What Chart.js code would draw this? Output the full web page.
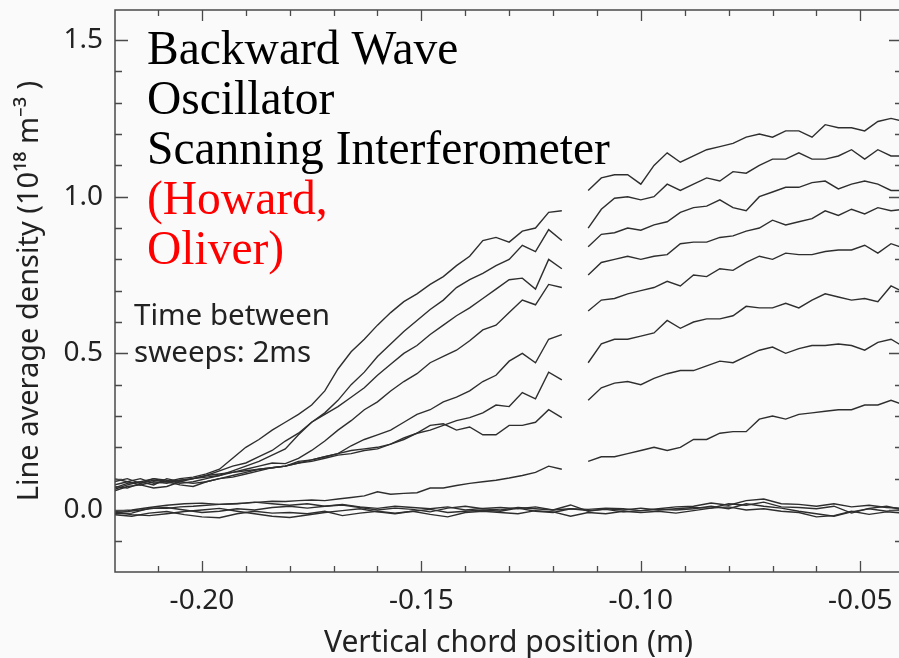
<!DOCTYPE html>
<html lang="en">
<head>
    <meta charset="UTF-8">
    <title>BWO Scanning Interferometer</title>
    <style>
        * { box-sizing: border-box; margin: 0; }
        html, body { width: 899px; height: 658px; overflow: hidden; background: #fafafa; }
        #plot { display: block; }
    </style>
</head>
<body>
    <canvas id="plot" width="903" height="658"></canvas>

    <script src="https://cdn.jsdelivr.net/npm/chart.js@4.4.1/dist/chart.umd.min.js"></script>
    <script>
        "use strict";

        // chord positions (m) for the two halves of each sweep and for the flat sweeps
        const xLeft  = [-0.220, -0.217, -0.214, -0.211, -0.208, -0.205, -0.202, -0.199, -0.196, -0.193,
                        -0.190, -0.187, -0.184, -0.181, -0.178, -0.175, -0.172, -0.169, -0.166, -0.163,
                        -0.160, -0.157, -0.154, -0.151, -0.148, -0.145, -0.142, -0.139, -0.136, -0.133,
                        -0.130, -0.127, -0.124, -0.121, -0.118]
        const xRight = [-0.112, -0.109, -0.106, -0.103, -0.100, -0.097, -0.094, -0.091, -0.088, -0.085,
                        -0.082, -0.079, -0.076, -0.073, -0.070, -0.067, -0.064, -0.061, -0.058, -0.055,
                        -0.052, -0.049, -0.046, -0.043, -0.040]
        const xFlat  = [-0.220, -0.216, -0.212, -0.208, -0.204, -0.200, -0.196, -0.192, -0.188, -0.184,
                        -0.180, -0.176, -0.172, -0.168, -0.164, -0.160, -0.156, -0.152, -0.148, -0.144,
                        -0.140, -0.136, -0.132, -0.128, -0.124, -0.120, -0.116, -0.112, -0.108, -0.104,
                        -0.100, -0.096, -0.092, -0.088, -0.084, -0.080, -0.076, -0.072, -0.068, -0.064,
                        -0.060, -0.056, -0.052, -0.048, -0.044, -0.040]

        // axis label positions
        const xLabelTicks = [-0.20, -0.15, -0.10, -0.05]
        const yLabelTicks = [0.0, 0.5, 1.0, 1.5]

        // line average density (1e18 m^-3), one pair of arrays per sweep, densest first
        const rise1L = [0.09, 0.10, 0.085, 0.095, 0.09, 0.10, 0.105, 0.115, 0.13, 0.165, 0.20, 0.225, 0.255, 0.28, 0.305,
                        0.335, 0.38, 0.45, 0.505, 0.545, 0.59, 0.63, 0.665, 0.69, 0.72, 0.745, 0.78, 0.81, 0.86, 0.87,
                        0.855, 0.89, 0.90, 0.95, 0.955]
        const rise1R = [1.02, 1.06, 1.07, 1.07, 1.04, 1.10, 1.14, 1.11, 1.13, 1.15, 1.16, 1.17, 1.19, 1.20, 1.19,
                        1.21, 1.21, 1.19, 1.23, 1.22, 1.22, 1.21, 1.24, 1.25, 1.24]
        const rise2L = [0.08, 0.09, 0.10, 0.085, 0.09, 0.095, 0.10, 0.11, 0.125, 0.14, 0.15, 0.17, 0.19, 0.22, 0.245,
                        0.28, 0.31, 0.35, 0.40, 0.44, 0.49, 0.53, 0.57, 0.605, 0.64, 0.67, 0.71, 0.735, 0.755, 0.78,
                        0.80, 0.845, 0.825, 0.895, 0.86]
        const rise2R = [0.90, 0.96, 0.995, 1.00, 0.99, 1.00, 1.04, 1.02, 1.04, 1.06, 1.05, 1.08, 1.075, 1.10, 1.12,
                        1.12, 1.14, 1.12, 1.12, 1.13, 1.15, 1.12, 1.15, 1.13, 1.13]
        const rise3L = [0.07, 0.085, 0.09, 0.10, 0.095, 0.085, 0.09, 0.10, 0.11, 0.125, 0.14, 0.155, 0.175, 0.195, 0.24,
                        0.28, 0.305, 0.33, 0.36, 0.39, 0.43, 0.465, 0.50, 0.525, 0.56, 0.59, 0.62, 0.645, 0.675, 0.705,
                        0.735, 0.74, 0.705, 0.80, 0.77]
        const rise3R = [0.84, 0.88, 0.885, 0.90, 0.893, 0.91, 0.92, 0.95, 0.965, 0.97, 0.99, 0.965, 0.955, 1.00, 1.015,
                        1.03, 1.03, 1.045, 1.05, 1.025, 1.04, 1.05, 1.04, 1.02, 1.02]
        const rise4L = [0.10, 0.09, 0.08, 0.09, 0.085, 0.095, 0.10, 0.105, 0.11, 0.12, 0.13, 0.14, 0.15, 0.148, 0.165,
                        0.19, 0.22, 0.255, 0.285, 0.32, 0.345, 0.38, 0.41, 0.435, 0.47, 0.49, 0.51, 0.54, 0.575, 0.59,
                        0.63, 0.67, 0.655, 0.72, 0.71]
        const rise4R = [0.75, 0.79, 0.80, 0.81, 0.80, 0.81, 0.815, 0.85, 0.855, 0.855, 0.87, 0.875, 0.89, 0.90, 0.925,
                        0.91, 0.92, 0.93, 0.955, 0.94, 0.96, 0.945, 0.965, 0.955, 0.96]
        const rise5L = [0.065, 0.08, 0.09, 0.08, 0.10, 0.09, 0.085, 0.09, 0.10, 0.105, 0.115, 0.125, 0.135, 0.14, 0.15,
                        0.16, 0.17, 0.18, 0.205, 0.225, 0.24, 0.255, 0.28, 0.305, 0.32, 0.345, 0.36, 0.38, 0.41, 0.43,
                        0.475, 0.50, 0.47, 0.545, 0.56]
        const rise5R = [0.635, 0.67, 0.675, 0.69, 0.70, 0.71, 0.73, 0.715, 0.75, 0.745, 0.77, 0.765, 0.79, 0.81, 0.80,
                        0.82, 0.815, 0.815, 0.825, 0.83, 0.83, 0.845, 0.82, 0.85, 0.835]
        const rise6L = [0.075, 0.07, 0.085, 0.10, 0.09, 0.08, 0.075, 0.09, 0.10, 0.11, 0.12, 0.13, 0.135, 0.14, 0.155,
                        0.16, 0.17, 0.18, 0.19, 0.195, 0.20, 0.21, 0.23, 0.245, 0.255, 0.27, 0.285, 0.295, 0.31, 0.335,
                        0.33, 0.375, 0.355, 0.44, 0.415]
        const rise6R = [0.47, 0.53, 0.545, 0.545, 0.555, 0.565, 0.605, 0.58, 0.60, 0.61, 0.61, 0.62, 0.65, 0.645, 0.645,
                        0.66, 0.645, 0.67, 0.69, 0.68, 0.67, 0.675, 0.665, 0.715, 0.695]
        const rise7L = [0.06, 0.075, 0.08, 0.07, 0.075, 0.09, 0.10, 0.11, 0.115, 0.12, 0.125, 0.13, 0.135, 0.14, 0.15,
                        0.155, 0.165, 0.175, 0.18, 0.19, 0.195, 0.21, 0.225, 0.245, 0.27, 0.275, 0.255, 0.265, 0.24, 0.24,
                        0.27, 0.27, 0.28, 0.32, 0.295]
        const rise7R = [0.35, 0.39, 0.405, 0.41, 0.40, 0.42, 0.435, 0.445, 0.445, 0.46, 0.475, 0.47, 0.49, 0.51, 0.52,
                        0.50, 0.515, 0.525, 0.525, 0.53, 0.525, 0.51, 0.535, 0.545, 0.52]
        const rise8L = [-0.01, -0.005, 0.0, 0.005, 0.005, 0.01, 0.012, 0.015, 0.018, 0.02, 0.022, 0.025, 0.028, 0.027, 0.03,
                        0.032, 0.03, 0.035, 0.04, 0.045, 0.058, 0.05, 0.053, 0.055, 0.07, 0.07, 0.078, 0.085, 0.09, 0.095,
                        0.102, 0.11, 0.12, 0.14, 0.13]
        const rise8R = [0.155, 0.17, 0.17, 0.18, 0.19, 0.20, 0.19, 0.20, 0.225, 0.225, 0.245, 0.25, 0.25, 0.29, 0.30,
                        0.29, 0.305, 0.31, 0.315, 0.32, 0.32, 0.335, 0.335, 0.35, 0.335]

        // sweeps taken before the plasma density builds up
        const flat1 = [-0.005, 0.0, 0.008, 0.015, 0.02, 0.022, 0.018, 0.02, 0.025, 0.02, 0.015, 0.02, 0.012, 0.018, 0.01,
                       0.005, 0.012, 0.008, 0.004, 0.01, 0.0, 0.005, 0.008, 0.004, 0.01, 0.0, 0.004, 0.002, 0.006, 0.004,
                       -0.002, 0.004, 0.01, 0.012, 0.022, 0.015, 0.03, 0.035, 0.02, 0.018, 0.012, 0.02, 0.01, 0.015, 0.008, 0.005]
        const flat2 = [-0.012, -0.01, 0.005, 0.008, 0.0, -0.008, -0.004, 0.004, 0.0, 0.008, 0.012, 0.006, 0.012, 0.016, 0.008,
                       0.0, 0.006, 0.002, -0.006, 0.006, 0.012, 0.004, 0.0, 0.008, 0.004, 0.0, 0.016, -0.004, 0.004, 0.0,
                       0.006, 0.0, 0.004, 0.008, 0.006, 0.02, 0.015, 0.025, 0.01, 0.008, 0.004, 0.012, -0.01, 0.005, 0.012, 0.0]
        const flat3 = [-0.015, -0.02, -0.01, -0.005, -0.015, -0.022, -0.025, -0.012, -0.004, -0.01, -0.008, -0.012, -0.004, -0.018, -0.01,
                       -0.004, -0.01, -0.004, -0.014, -0.022, -0.008, -0.004, -0.008, -0.012, -0.002, -0.006, -0.02, -0.008, -0.012, -0.004,
                       -0.008, -0.004, -0.01, -0.002, 0.006, 0.01, 0.0, 0.004, -0.004, -0.008, -0.022, -0.018, -0.004, -0.014, -0.006, -0.01]
        const flat4 = [-0.008, -0.015, -0.018, -0.012, -0.005, 0.0, 0.005, -0.004, -0.012, -0.02, -0.024, -0.016, -0.008, -0.002, 0.004,
                       -0.006, -0.012, -0.004, 0.002, -0.008, -0.004, 0.0, -0.004, 0.006, -0.004, -0.008, 0.004, -0.002, 0.002, -0.006,
                       -0.002, 0.002, 0.0, 0.004, 0.012, 0.004, 0.02, 0.012, 0.006, -0.004, -0.012, -0.02, -0.006, 0.004, -0.004, 0.002]

        const risePairs = [
            [rise1L, rise1R], [rise2L, rise2R], [rise3L, rise3R], [rise4L, rise4R],
            [rise5L, rise5R], [rise6L, rise6R], [rise7L, rise7R], [rise8L, rise8R]
        ]
        const flats = [flat1, flat2, flat3, flat4]

        const titleLines = [
            { text: "Backward Wave", color: "#000000" },
            { text: "Oscillator", color: "#000000" },
            { text: "Scanning Interferometer", color: "#000000" },
            { text: "(Howard,", color: "#ff0000" },
            { text: "Oliver)", color: "#ff0000" }
        ]
        const noteLines = ["Time between", "sweeps: 2ms"]

        const sans     = "'Noto Sans', 'Open Sans', sans-serif"
        const lineGrey = "#2e2e2e"
        const axisGrey = "#4a4a4a"

        function toPoints(xs, ys) {
            return xs.map((x, i) => ({ x: x, y: ys[i] }))
        }

        // left half, a break where the sweep skips the port, then the right half
        const datasets = []
        risePairs.forEach(([l, r]) => {
            datasets.push({
                data: toPoints(xLeft, l).concat([{ x: -0.115, y: null }], toPoints(xRight, r))
            })
        })
        flats.forEach(f => datasets.push({ data: toPoints(xFlat, f) }))
        datasets.forEach(d => {
            d.borderColor = lineGrey
            d.borderWidth = 1.4
            d.pointRadius = 0
            d.tension = 0
            d.spanGaps = false
        })

        // fixed axis box, no extra room for overhanging labels
        function fixBox(size, horizontal) {
            return s => {
                if (horizontal) s.height = size; else s.width = size
                s.paddingTop = 0; s.paddingBottom = 0
                s.paddingLeft = 0; s.paddingRight = 0
            }
        }

        // background, framed axes with inward ticks, and the text blocks
        const decor = {
            id: "decor",
            beforeDraw(chart) {
                const c = chart.ctx
                c.save()
                c.fillStyle = "#fafafa"
                c.fillRect(0, 0, chart.width, chart.height)
                c.restore()
            },
            afterDraw(chart) {
                const c = chart.ctx
                const a = chart.chartArea
                const sx = chart.scales.x
                const sy = chart.scales.y
                c.save()
                c.strokeStyle = axisGrey
                c.lineWidth = 1.5
                c.beginPath()
                c.moveTo(a.right, a.top); c.lineTo(a.left, a.top)
                c.lineTo(a.left, a.bottom); c.lineTo(a.right, a.bottom)
                c.lineTo(a.right, a.top)
                c.stroke()

                c.lineWidth = 1.3
                c.beginPath()
                for (let k = -21; k <= -5; k++) {
                    const px = Math.round(sx.getPixelForValue(k / 100)) + 0.5
                    const len = (k % 5 === 0) ? 11 : 6
                    c.moveTo(px, a.bottom); c.lineTo(px, a.bottom - len)
                    c.moveTo(px, a.top); c.lineTo(px, a.top + len)
                }
                for (let k = -1; k <= 15; k++) {
                    const py = Math.round(sy.getPixelForValue(k / 10)) + 0.5
                    const len = (k % 5 === 0) ? 13 : 7
                    c.moveTo(a.left, py); c.lineTo(a.left + len, py)
                    c.moveTo(a.right, py); c.lineTo(a.right - len, py)
                }
                c.stroke()

                c.textAlign = "left"
                c.textBaseline = "alphabetic"
                c.font = "47.5px 'Liberation Serif', 'Times New Roman', serif"
                titleLines.forEach((ln, i) => {
                    c.fillStyle = ln.color
                    c.fillText(ln.text, 147, 64 + i * 50)
                })
                c.font = "29.5px " + sans
                c.fillStyle = "#222222"
                noteLines.forEach((t, i) => c.fillText(t, 134, 325 + i * 37))
                c.restore()
            }
        }

        const plotCanvas = document.getElementById("plot")
        const myChart = new Chart(plotCanvas.getContext("2d"), {
            type: "line",
            data: { datasets: datasets },
            options: {
                responsive: false,
                animation: false,
                layout: { padding: { top: 10, right: 1, left: 0, bottom: 0 } },
                plugins: { legend: { display: false }, tooltip: { enabled: false } },
                scales: {
                    x: {
                        type: "linear",
                        min: -0.2198,
                        max: -0.0405,
                        grid: { display: false, drawTicks: false },
                        border: { display: false },
                        afterBuildTicks: s => { s.ticks = xLabelTicks.map(v => ({ value: v })) },
                        afterFit: fixBox(86, true),
                        ticks: {
                            autoSkip: false,
                            maxRotation: 0,
                            padding: 12,
                            color: "#222222",
                            font: { family: sans, size: 28 },
                            callback: v => v.toFixed(2)
                        },
                        title: {
                            display: true,
                            text: "Vertical chord position (m)",
                            color: "#222222",
                            font: { family: sans, size: 30, lineHeight: 1.0 },
                            padding: { top: 0, bottom: 0 }
                        }
                    },
                    y: {
                        min: -0.198,
                        max: 1.596,
                        grid: { display: false, drawTicks: false },
                        border: { display: false },
                        afterBuildTicks: s => { s.ticks = yLabelTicks.map(v => ({ value: v })) },
                        afterFit: fixBox(115, false),
                        ticks: {
                            autoSkip: false,
                            padding: 12,
                            color: "#222222",
                            font: { family: sans, size: 28 },
                            callback: v => v.toFixed(1)
                        },
                        title: {
                            display: true,
                            text: "Line average density (10¹⁸ m⁻³ )",
                            color: "#222222",
                            font: { family: sans, size: 29 },
                            padding: { top: 12, bottom: 0 }
                        }
                    }
                }
            },
            plugins: [decor]
        })
    </script>
</body>
</html>
